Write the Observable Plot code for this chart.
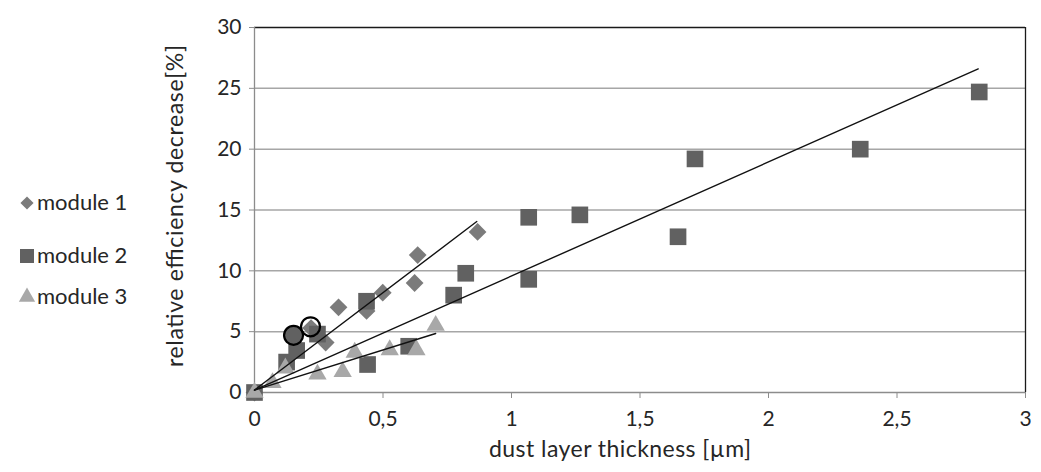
<!DOCTYPE html>
<html><head><meta charset="utf-8">
<script src="https://cdn.jsdelivr.net/npm/d3@7"></script>
<script src="https://cdn.jsdelivr.net/npm/@observablehq/plot@0.6"></script>
<style>
body{margin:0;background:#fff;}
#wrap{position:relative;width:1041px;height:472px;font-family:Lato,"Open Sans",sans-serif;}
#legend{position:absolute;left:0;top:0;}
</style></head><body><div id="wrap"></div>
<script>
// module 1 (diamonds)
const m1x = [0, 0.22, 0.277, 0.327, 0.436, 0.499, 0.623, 0.635, 0.868];
const m1y = [0, 5.3, 4.1, 7.0, 6.7, 8.2, 9.0, 11.3, 13.2];
// module 2 (squares)
const m2x = [0, 0.125, 0.164, 0.245, 0.436, 0.44, 0.6, 0.775, 0.822, 1.067, 1.067, 1.266, 1.648, 1.714, 2.357, 2.82];
const m2y = [0, 2.5, 3.45, 4.8, 7.5, 2.3, 3.8, 8.0, 9.8, 14.4, 9.3, 14.6, 12.8, 19.2, 20.0, 24.7];
// module 3 (triangles)
const m3x = [0, 0.07, 0.12, 0.245, 0.343, 0.39, 0.526, 0.63, 0.705];
const m3y = [0, 0.8, 2.0, 1.5, 1.7, 3.3, 3.5, 3.5, 5.5];
// linear trend lines
const trendX = [[0, 0.865], [0, 2.816], [0, 0.705]];
const trendY = [[0.2, 14.05], [0.2, 26.6], [0.2, 4.85]];
// highlighted points
const circleX = [0.152, 0.218];
const circleY = [4.7, 5.4];
const circleFill = ["#616161", "none"];
// ticks and labels
const xTicks = [0, 0.5, 1, 1.5, 2, 2.5, 3];
const yTicks = [0, 5, 10, 15, 20, 25, 30];
const seriesNames = ["module 1", "module 2", "module 3"];
const seriesColors = ["#7b7b7b", "#616161", "#a8a8a8"];
const xTitle = "dust layer thickness [\u00b5m]";
const yTitle = "relative efficiency decrease[%]";

const pts = (xs, ys) => xs.map((x, i) => ({x, y: ys[i]}));
const lines = trendX.flatMap((xs, k) => xs.map((x, i) => ({k, x, y: trendY[k][i]})));
const circles = circleX.map((x, i) => ({x, y: circleY[i], f: circleFill[i]}));
const fmt = d => String(d).replace(".", ",");

const chart = Plot.plot({
  width: 1041, height: 472,
  marginLeft: 254, marginRight: 16, marginTop: 27, marginBottom: 80,
  style: {fontFamily: "Lato, 'Open Sans', sans-serif", fontSize: "21px", color: "#262626", background: "white"},
  x: {domain: [0, 3], label: null},
  y: {domain: [0, 30], label: null},
  marks: [
    Plot.gridY(yTicks.slice(1, -1), {stroke: "#a6a6a6", strokeOpacity: 1, strokeWidth: 1.5}),
    Plot.ruleY([30], {stroke: "#1a1a1a", strokeWidth: 1.3}),
    Plot.ruleX([3], {stroke: "#1a1a1a", strokeWidth: 1.3}),
    Plot.ruleX([0], {stroke: "#8c8c8c", strokeWidth: 1.3}),
    Plot.ruleY([0], {stroke: "#8c8c8c", strokeWidth: 1.3}),
    Plot.axisY(yTicks, {tickSize: 5, tickPadding: 8, stroke: "#8c8c8c", fill: "#262626", fontSize: 21}),
    Plot.axisX(xTicks, {tickSize: 6, tickPadding: 13, stroke: "#8c8c8c", fill: "#262626", fontSize: 21, tickFormat: fmt}),
    Plot.dot(pts(m1x, m1y), {x: "x", y: "y", symbol: "diamond2", r: 8, fill: seriesColors[0]}),
    Plot.dot(pts(m2x, m2y), {x: "x", y: "y", symbol: "square", r: 9.4, fill: seriesColors[1]}),
    Plot.dot(pts(m3x, m3y), {x: "x", y: "y", symbol: "triangle", r: 6.8, fill: seriesColors[2]}),
    Plot.line(lines, {x: "x", y: "y", z: "k", stroke: "#111", strokeWidth: 1.4}),
    Plot.dot(circles, {x: "x", y: "y", r: 9.5, fill: d => d.f, stroke: "#000", strokeWidth: 2.2}),
    Plot.text([xTitle], {frameAnchor: "bottom", textAnchor: "middle", dx: -20, dy: 64, fontSize: 23, fill: "#262626"}),
    Plot.text([yTitle], {frameAnchor: "left", textAnchor: "middle", dx: -79, dy: -4, rotate: -90, fontSize: 23, fill: "#262626"})
  ]
});
const wrap = document.getElementById("wrap");
wrap.appendChild(chart);
// stretch axis titles to the reference's measured lengths
d3.select(chart).selectAll("text").each(function() {
  if (this.textContent === yTitle) d3.select(this).attr("textLength", 322).attr("lengthAdjust", "spacing");
  if (this.textContent === xTitle) d3.select(this).attr("textLength", 262).attr("lengthAdjust", "spacing");
});

// legend overlay
const leg = d3.select(wrap).append("svg").attr("id", "legend").attr("width", 160).attr("height", 472);
const symTypes = [d3.symbolDiamond2, d3.symbolSquare, d3.symbolTriangle];
const symSizes = [110, 196, 115];
const legY = [203, 256, 297];
seriesNames.forEach((name, i) => {
  const g = leg.append("g").attr("transform", `translate(0,${legY[i]})`);
  g.append("path").attr("transform", "translate(27,0)")
    .attr("d", d3.symbol(symTypes[i], symSizes[i])()).attr("fill", seriesColors[i]);
  g.append("text").attr("x", 37).attr("y", 7).attr("font-size", 22)
    .attr("font-family", "Lato, 'Open Sans', sans-serif").attr("fill", "#262626").text(name);
});
</script></body></html>
